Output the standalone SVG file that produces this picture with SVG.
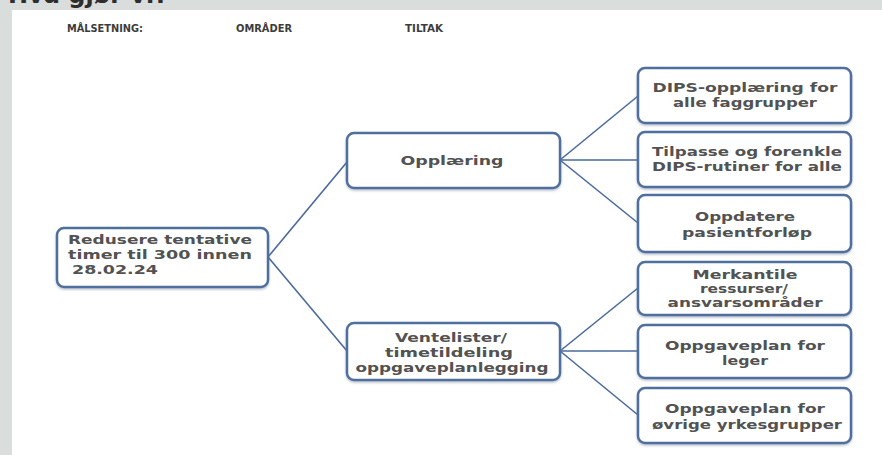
<svg xmlns="http://www.w3.org/2000/svg" width="882" height="455" viewBox="0 0 882 455">
<style>
.box{fill:#ffffff;stroke:#50709f;stroke-width:2.5;filter:url(#sh)}
.t{font-family:"DejaVu Sans",sans-serif;font-weight:bold;font-size:13px;fill:#525252;text-anchor:middle}
.tl{font-family:"DejaVu Sans",sans-serif;font-weight:bold;font-size:13px;fill:#525252}
.s{font-size:12px}
.h{font-family:"DejaVu Sans",sans-serif;font-weight:bold;font-size:10.5px;fill:#3c3c3c;text-anchor:middle}
.c{stroke:#4a6a9c;stroke-width:1.6;fill:none}
</style>
<defs>
<filter id="sh" x="-10%" y="-10%" width="120%" height="130%">
<feDropShadow dx="0" dy="1.5" stdDeviation="1" flood-color="#6c7c90" flood-opacity="0.45"/>
</filter>
</defs>
<rect x="0" y="0" width="882" height="455" fill="#d9dddb"/>
<text x="8" y="3" style="font-family:'DejaVu Sans',sans-serif;font-weight:bold;font-size:24px;fill:#2e2e2e">Hva gjør vi?</text>
<rect x="12" y="10" width="870" height="445" fill="#ffffff"/>

<g id="headers">
<text class="h" x="105" y="32" textLength="76" lengthAdjust="spacingAndGlyphs">MÅLSETNING:</text>
<text class="h" x="264" y="32" textLength="56" lengthAdjust="spacingAndGlyphs">OMRÅDER</text>
<text class="h" x="424" y="32" textLength="38" lengthAdjust="spacingAndGlyphs">TILTAK</text>
</g>

<g id="connectors">
<line class="c" x1="268" y1="257" x2="347" y2="162"/>
<line class="c" x1="268" y1="257" x2="347" y2="351"/>
<line class="c" x1="560" y1="160" x2="638" y2="96"/>
<line class="c" x1="560" y1="160" x2="638" y2="160"/>
<line class="c" x1="560" y1="160" x2="638" y2="223"/>
<line class="c" x1="560" y1="351" x2="638" y2="288"/>
<line class="c" x1="560" y1="351" x2="638" y2="351"/>
<line class="c" x1="560" y1="351" x2="638" y2="415"/>
</g>

<g id="goal">
<rect class="box" x="57" y="228" width="211" height="59" rx="7"/>
<text class="tl" x="68" y="244" textLength="184" lengthAdjust="spacingAndGlyphs">Redusere tentative</text>
<text class="tl" x="68" y="259" textLength="184" lengthAdjust="spacingAndGlyphs">timer til 300 innen</text>
<text class="tl" x="72" y="274" textLength="86" lengthAdjust="spacingAndGlyphs">28.02.24</text>
</g>

<g id="opplaering">
<rect class="box" x="347" y="133" width="213" height="55" rx="7"/>
<text class="t" x="452" y="165" textLength="103" lengthAdjust="spacingAndGlyphs">Opplæring</text>
</g>

<g id="ventelister">
<rect class="box" x="347" y="323" width="213" height="57" rx="7"/>
<text class="t" x="451" y="342" textLength="112" lengthAdjust="spacingAndGlyphs">Ventelister/</text>
<text class="t" x="449" y="357" textLength="128" lengthAdjust="spacingAndGlyphs">timetildeling</text>
<text class="t" x="452" y="372" textLength="193" lengthAdjust="spacingAndGlyphs">oppgaveplanlegging</text>
</g>

<g id="dips-opplaering">
<rect class="box" x="638" y="68" width="213" height="55" rx="7"/>
<text class="t" x="745" y="92" textLength="185" lengthAdjust="spacingAndGlyphs">DIPS-opplæring for</text>
<text class="t" x="745" y="107" textLength="144" lengthAdjust="spacingAndGlyphs">alle faggrupper</text>
</g>

<g id="tilpasse">
<rect class="box" x="638" y="132" width="213" height="55" rx="7"/>
<text class="t" x="747" y="156" textLength="190" lengthAdjust="spacingAndGlyphs">Tilpasse og forenkle</text>
<text class="t" x="747" y="171" textLength="190" lengthAdjust="spacingAndGlyphs">DIPS-rutiner for alle</text>
</g>

<g id="oppdatere">
<rect class="box" x="638" y="195" width="213" height="57" rx="7"/>
<text class="t" x="745" y="221" textLength="100" lengthAdjust="spacingAndGlyphs">Oppdatere</text>
<text class="t" x="747" y="237" textLength="130" lengthAdjust="spacingAndGlyphs">pasientforløp</text>
</g>

<g id="merkantile">
<rect class="box" x="638" y="262" width="213" height="53" rx="7"/>
<text class="t s" x="745" y="279" textLength="105" lengthAdjust="spacingAndGlyphs">Merkantile</text>
<text class="t s" x="744" y="293" textLength="88" lengthAdjust="spacingAndGlyphs">ressurser/</text>
<text class="t s" x="745" y="307" textLength="155" lengthAdjust="spacingAndGlyphs">ansvarsområder</text>
</g>

<g id="leger">
<rect class="box" x="638" y="325" width="213" height="53" rx="7"/>
<text class="t" x="745" y="350" textLength="160" lengthAdjust="spacingAndGlyphs">Oppgaveplan for</text>
<text class="t" x="745" y="365" textLength="46" lengthAdjust="spacingAndGlyphs">leger</text>
</g>

<g id="ovrige">
<rect class="box" x="638" y="388" width="213" height="55" rx="7"/>
<text class="t" x="745" y="413" textLength="160" lengthAdjust="spacingAndGlyphs">Oppgaveplan for</text>
<text class="t" x="747" y="429" textLength="190" lengthAdjust="spacingAndGlyphs">øvrige yrkesgrupper</text>
</g>
</svg>
